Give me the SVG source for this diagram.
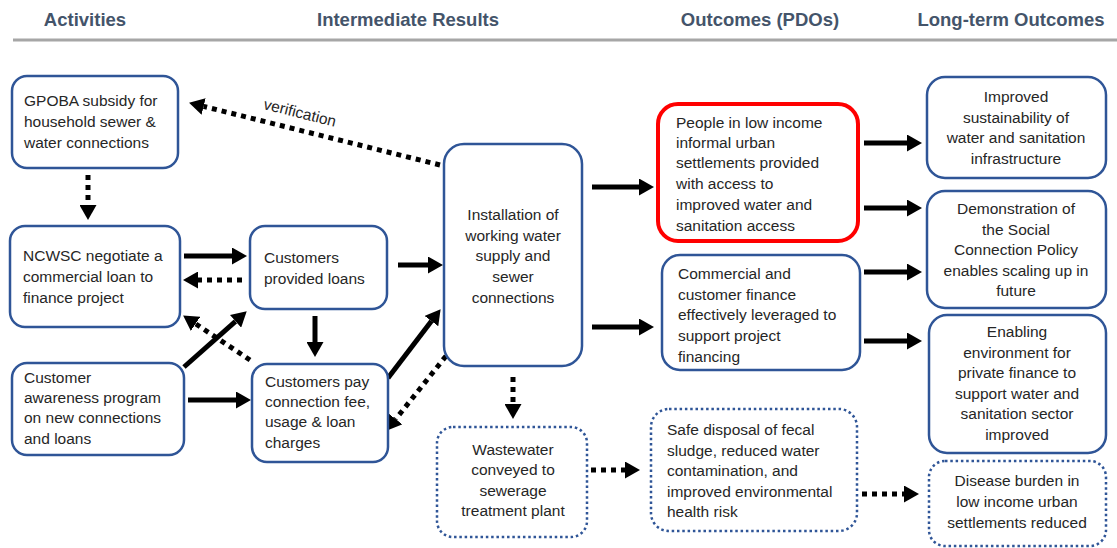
<svg xmlns="http://www.w3.org/2000/svg" width="1117" height="548" viewBox="0 0 1117 548">
  <style>
    .hdr { font-family: "Liberation Sans", Arial, sans-serif; font-weight: bold; font-size: 18.5px; fill: #44546a; text-anchor: middle; }
    .box { fill: #ffffff; stroke: #2f5597; stroke-width: 2.5; }
    .dotbox { fill: #ffffff; stroke: #2f5597; stroke-width: 2.5; stroke-dasharray: 2.5 2.8; }
    .red { fill: #ffffff; stroke: #ff0000; stroke-width: 4; }
    .t { font-family: "Liberation Sans", Arial, sans-serif; font-size: 15.5px; fill: #262626; }
    .c { text-anchor: middle; }
    .solid { stroke: #000000; stroke-width: 5; fill: none; marker-end: url(#head); }
    .dot { stroke: #000000; stroke-width: 5; fill: none; stroke-dasharray: 5 5; marker-end: url(#head); }
  </style>
  <defs>
    <marker id="head" markerUnits="userSpaceOnUse" markerWidth="15" markerHeight="17" refX="0" refY="8.5" orient="auto">
      <path d="M0,0 L15,8.5 L0,17 z" fill="#000000"/>
    </marker>
  </defs>

  <rect width="1117" height="548" fill="#ffffff"/>

  <!-- column headings -->
  <g id="headings">
    <text class="hdr" x="85" y="26">Activities</text>
    <text class="hdr" x="408" y="26">Intermediate Results</text>
    <text class="hdr" x="760" y="26">Outcomes (PDOs)</text>
    <text class="hdr" x="1011" y="26">Long-term Outcomes</text>
    <line x1="13" y1="40" x2="1117" y2="40" stroke="#a6a6a6" stroke-width="3"/>
  </g>

  <!-- connectors -->
  <g id="connectors">
    <path class="dot" d="M440,165 L203.6,106.4"/>
    <text class="t" x="300" y="118" text-anchor="middle" transform="rotate(14 300 113)">verification</text>
    <path class="dot" d="M88,175 L88,205"/>
    <path class="solid" d="M184,256 L232,256"/>
    <path class="dot" d="M242,280 L198,280"/>
    <path class="solid" d="M184,367 L235.5,321.3"/>
    <path class="dot" d="M250,360 L195.6,323.8"/>
    <path class="solid" d="M188,400 L236,400"/>
    <path class="solid" d="M315,316 L315,342"/>
    <path class="solid" d="M398,265 L428,265"/>
    <path class="solid" d="M388,378 L431.5,321.1"/>
    <path class="dot" d="M446,356 L395.7,419.1"/>
    <path class="dot" d="M513,377 L513,404"/>
    <path class="solid" d="M592,187 L639,187"/>
    <path class="solid" d="M592,327 L639,327"/>
    <path class="dot" d="M591,470 L625,470"/>
    <path class="solid" d="M864,143 L907,143"/>
    <path class="solid" d="M864,208 L907,208"/>
    <path class="solid" d="M864,272 L907,272"/>
    <path class="solid" d="M864,341 L907,341"/>
    <path class="dot" d="M862,494 L904,494"/>
  </g>

  <!-- activities -->
  <g id="gpoba">
    <rect class="box" x="12" y="76" width="166" height="92" rx="15"/>
    <text class="t" x="24" y="106">GPOBA subsidy for</text>
    <text class="t" x="24" y="127">household sewer &amp;</text>
    <text class="t" x="24" y="148">water connections</text>
  </g>
  <g id="ncwsc">
    <rect class="box" x="10" y="226" width="170" height="101" rx="15"/>
    <text class="t" x="23" y="261">NCWSC negotiate a</text>
    <text class="t" x="23" y="282">commercial loan to</text>
    <text class="t" x="23" y="303">finance project</text>
  </g>
  <g id="awareness">
    <rect class="box" x="12" y="363" width="172" height="92" rx="15"/>
    <text class="t" x="24" y="383">Customer</text>
    <text class="t" x="24" y="403">awareness program</text>
    <text class="t" x="24" y="423">on new connections</text>
    <text class="t" x="24" y="444">and loans</text>
  </g>

  <!-- intermediate results -->
  <g id="loans">
    <rect class="box" x="250" y="226" width="137" height="83" rx="15"/>
    <text class="t" x="264" y="263">Customers</text>
    <text class="t" x="264" y="284">provided loans</text>
  </g>
  <g id="pay">
    <rect class="box" x="252" y="364" width="136" height="98" rx="15"/>
    <text class="t" x="265" y="387">Customers pay</text>
    <text class="t" x="265" y="407">connection fee,</text>
    <text class="t" x="265" y="427">usage &amp; loan</text>
    <text class="t" x="265" y="448">charges</text>
  </g>
  <g id="installation">
    <rect class="box" x="444" y="144" width="138" height="222" rx="20"/>
    <text class="t c" x="513" y="220">Installation of</text>
    <text class="t c" x="513" y="241">working water</text>
    <text class="t c" x="513" y="261">supply and</text>
    <text class="t c" x="513" y="282">sewer</text>
    <text class="t c" x="513" y="303">connections</text>
  </g>
  <g id="wastewater">
    <rect class="dotbox" x="437" y="427" width="150" height="110" rx="16"/>
    <text class="t c" x="513" y="455">Wastewater</text>
    <text class="t c" x="513" y="475">conveyed to</text>
    <text class="t c" x="513" y="496">sewerage</text>
    <text class="t c" x="513" y="516">treatment plant</text>
  </g>

  <!-- outcomes -->
  <g id="access">
    <rect class="red" x="658" y="104" width="200" height="137" rx="20"/>
    <text class="t" x="676" y="128">People in low income</text>
    <text class="t" x="676" y="148">informal urban</text>
    <text class="t" x="676" y="168">settlements provided</text>
    <text class="t" x="676" y="189">with access to</text>
    <text class="t" x="676" y="210">improved water and</text>
    <text class="t" x="676" y="231">sanitation access</text>
  </g>
  <g id="finance">
    <rect class="box" x="662" y="255" width="198" height="115" rx="18"/>
    <text class="t" x="678" y="279">Commercial and</text>
    <text class="t" x="678" y="300">customer finance</text>
    <text class="t" x="678" y="320">effectively leveraged to</text>
    <text class="t" x="678" y="341">support project</text>
    <text class="t" x="678" y="362">financing</text>
  </g>
  <g id="disposal">
    <rect class="dotbox" x="651" y="409" width="206" height="122" rx="18"/>
    <text class="t" x="667" y="435">Safe disposal of fecal</text>
    <text class="t" x="667" y="456">sludge, reduced water</text>
    <text class="t" x="667" y="476">contamination, and</text>
    <text class="t" x="667" y="497">improved environmental</text>
    <text class="t" x="667" y="517">health risk</text>
  </g>

  <!-- long-term outcomes -->
  <g id="sustainability">
    <rect class="box" x="927" y="77" width="179" height="101" rx="18"/>
    <text class="t c" x="1016" y="102">Improved</text>
    <text class="t c" x="1016" y="123">sustainability of</text>
    <text class="t c" x="1016" y="143">water and sanitation</text>
    <text class="t c" x="1016" y="164">infrastructure</text>
  </g>
  <g id="demonstration">
    <rect class="box" x="927" y="191" width="179" height="117" rx="18"/>
    <text class="t c" x="1016" y="214">Demonstration of</text>
    <text class="t c" x="1016" y="235">the Social</text>
    <text class="t c" x="1016" y="255">Connection Policy</text>
    <text class="t c" x="1016" y="276">enables scaling up in</text>
    <text class="t c" x="1016" y="296">future</text>
  </g>
  <g id="enabling">
    <rect class="box" x="929" y="315" width="177" height="138" rx="18"/>
    <text class="t c" x="1017" y="337">Enabling</text>
    <text class="t c" x="1017" y="358">environment for</text>
    <text class="t c" x="1017" y="378">private finance to</text>
    <text class="t c" x="1017" y="399">support water and</text>
    <text class="t c" x="1017" y="419">sanitation sector</text>
    <text class="t c" x="1017" y="440">improved</text>
  </g>
  <g id="disease">
    <rect class="dotbox" x="929" y="461" width="177" height="85" rx="16"/>
    <text class="t c" x="1017" y="486">Disease burden in</text>
    <text class="t c" x="1017" y="507">low income urban</text>
    <text class="t c" x="1017" y="528">settlements reduced</text>
  </g>
</svg>
